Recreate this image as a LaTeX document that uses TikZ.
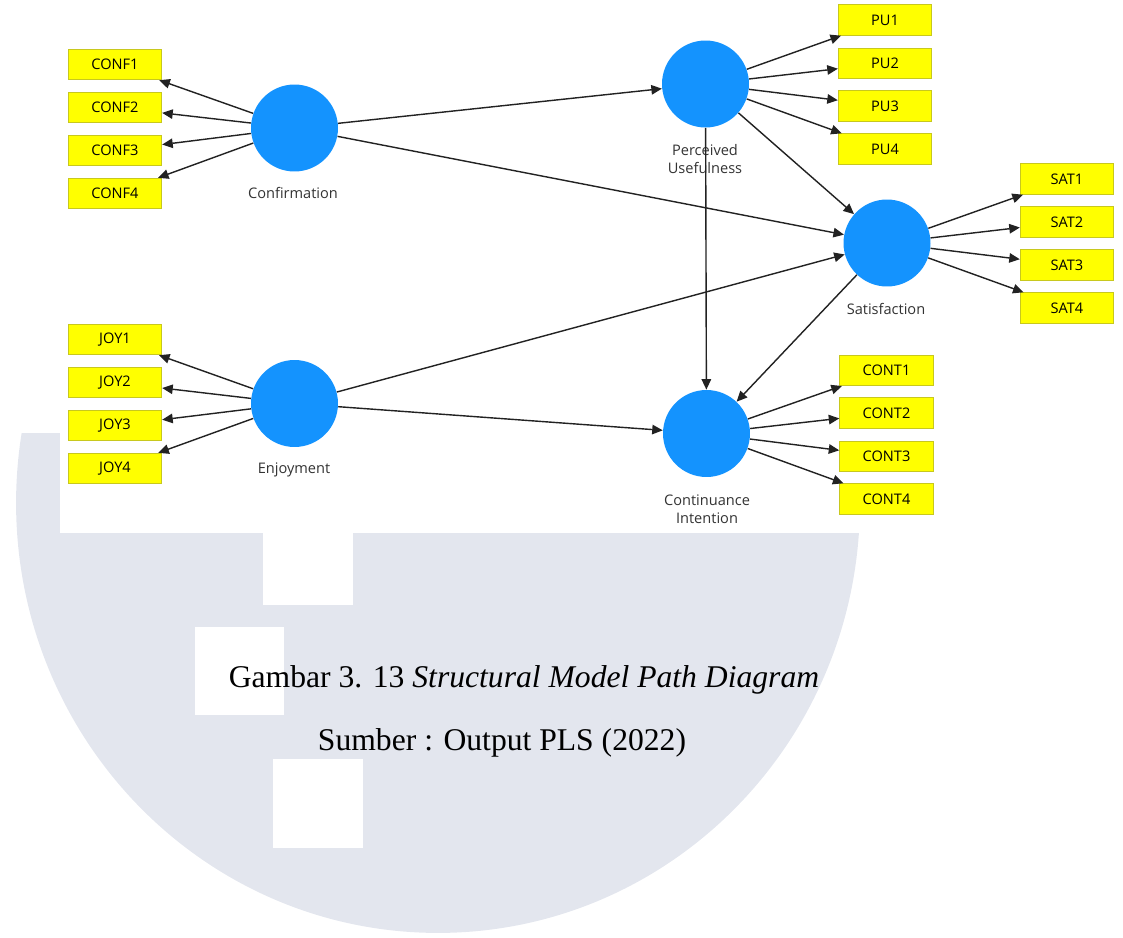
\documentclass[tikz,border=0pt]{standalone}
\usepackage{fontspec}
\setmainfont{Liberation Serif}
\newfontfamily\plsfont{Open Sans}
\usetikzlibrary{arrows.meta}

\definecolor{latent}{HTML}{1493FE}
\definecolor{indicator}{HTML}{FFFF00}
\definecolor{indborder}{HTML}{C8C81E}
\definecolor{wmgray}{HTML}{E3E6EE}
\definecolor{pathline}{HTML}{222222}
\definecolor{lbltext}{HTML}{333333}

\begin{document}
\begin{tikzpicture}[x=0.02cm,y=-0.02cm,
  latentvar/.style={circle,fill=latent,draw=none,minimum size=1.74cm,inner sep=0pt},
  indbox/.style={rectangle,fill=indicator,draw=indborder,line width=0.5pt,
    minimum width=1.87cm,minimum height=0.61cm,inner sep=0pt,
    font=\plsfont\fontsize{8.3}{10}\selectfont,text=black},
  lvlabel/.style={font=\plsfont\fontsize{8.3}{10.2}\selectfont,text=lbltext,
    align=center,inner sep=0pt},
  pathto/.style={draw=pathline,line width=0.8pt,-{Triangle[length=6pt,width=5.4pt]}},
  capline/.style={font=\fontsize{18}{22}\selectfont,anchor=base,inner sep=0pt}
]
\useasboundingbox (0,0) rectangle (1123,937);

% page background watermark
\fill[wmgray] (438,503) ellipse [x radius=8.44cm, y radius=8.6cm];
\fill[white] (0,0) rectangle (60,433);
\fill[white] (60,0) rectangle (1123,533);
\fill[white] (263,533) rectangle (353,605);
\fill[white] (195,627) rectangle (284,715);
\fill[white] (273,759) rectangle (363,848);

% latent variables
\node[latentvar] (conf) at (294.5,128) {};
\node[latentvar] (enj)  at (294.5,403.5) {};
\node[latentvar] (pu)   at (705.5,84) {};
\node[latentvar] (sat)  at (887,243) {};
\node[latentvar] (ci)   at (706.5,433.5) {};

\node[lvlabel] (conf-lbl) at (293,193) {Confirmation};
\node[lvlabel] (enj-lbl)  at (294,470) {Enjoyment};
\node[lvlabel] (pu-lbl)   at (705,159) {Perceived\\Usefulness};
\node[lvlabel] (sat-lbl)  at (886,309) {Satisfaction};
\node[lvlabel] (ci-lbl)   at (707,509) {Continuance\\Intention};

% indicators
\foreach \i/\y in {1/64.5,2/107.5,3/150.5,4/193.5}
  \node[indbox] (conf\i) at (115,\y) {CONF\i};
\foreach \i/\y in {1/339.5,2/382.5,3/425.5,4/468.5}
  \node[indbox] (joy\i) at (115,\y) {JOY\i};
\foreach \i/\y in {1/20,2/63.3,3/106,4/149}
  \node[indbox] (pu\i) at (885,\y) {PU\i};
\foreach \i/\y in {1/179,2/222,3/265,4/308}
  \node[indbox] (sat\i) at (1067,\y) {SAT\i};
\foreach \i/\y in {1/370.3,2/413,3/456.3,4/499}
  \node[indbox] (cont\i) at (886.5,\y) {CONT\i};

% outer loadings
\foreach \i in {1,...,4} {
  \draw[pathto] (conf) -- (conf\i);
  \draw[pathto] (enj) -- (joy\i);
  \draw[pathto] (pu) -- (pu\i);
  \draw[pathto] (sat) -- (sat\i);
  \draw[pathto] (ci) -- (cont\i);
}

% structural paths
\draw[pathto] (conf) -- (pu);
\draw[pathto] (conf) -- (sat);
\draw[pathto] (pu) -- (sat);
\draw[pathto] (pu) -- (ci);
\draw[pathto] (enj) -- (sat);
\draw[pathto] (enj) -- (ci);
\draw[pathto] (sat) -- (ci);

% caption
\node[capline] (fig-title) at (524,687) {Gambar 3. 13 \textit{Structural Model Path Diagram}};
\node[capline] (fig-source) at (502,750) {Sumber : Output PLS (2022)};
\end{tikzpicture}
\end{document}
